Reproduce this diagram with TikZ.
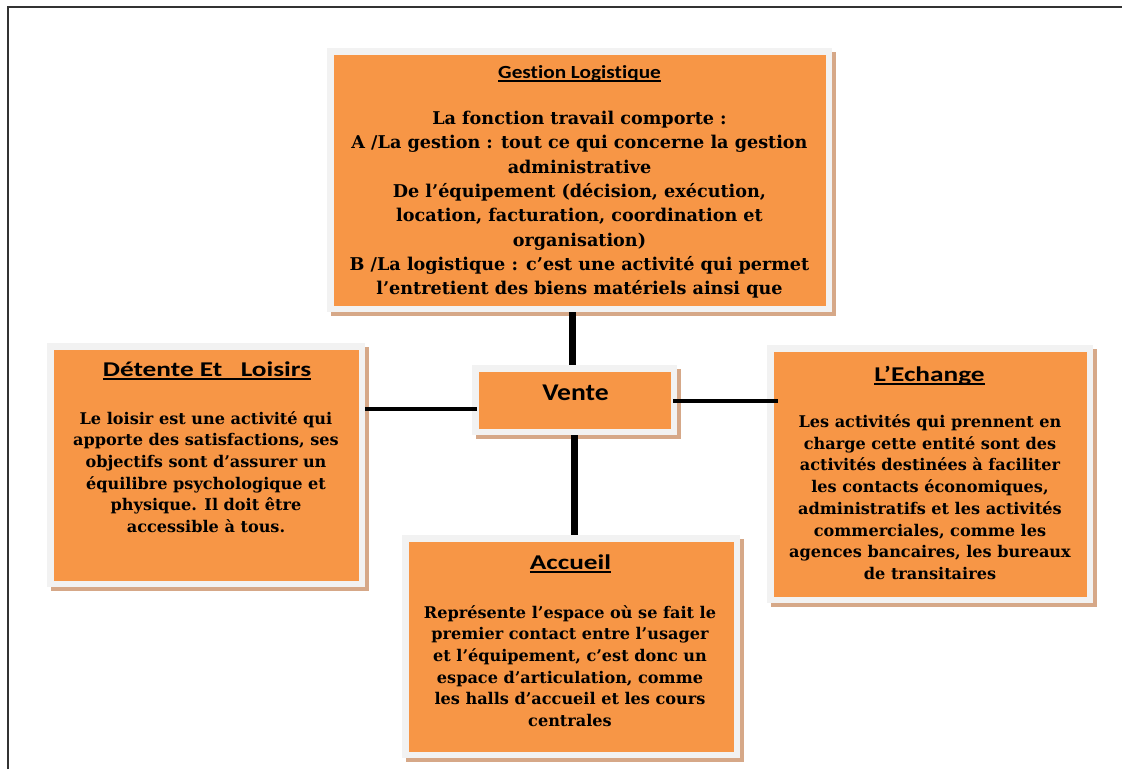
\documentclass[tikz,border=0pt]{standalone}
\usepackage{fontspec}
\setmainfont{DejaVu Serif}
\newfontfamily\titlefont[FakeStretch=1.3,Ligatures=NoCommon]{Carlito}
\newfontfamily\gestfont[FakeStretch=1.15,Ligatures=NoCommon]{Carlito}
\usetikzlibrary{shadows}
\definecolor{boxorange}{HTML}{F79646}
\definecolor{boxrim}{HTML}{F2F2F2}
\definecolor{boxshadow}{HTML}{D6A888}
\definecolor{framegray}{HTML}{333333}
\newcommand\tul[1]{\setbox0\hbox{#1}\leavevmode\rlap{\rule[-3.5pt]{\wd0}{1.4pt}}\box0}
\tikzset{
  card/.style={fill=boxrim, draw=none, inner sep=0pt,
    drop shadow={shadow xshift=3.5pt, shadow yshift=-3.5pt, fill=boxshadow, opacity=1},
    path picture={\fill[boxorange] ([shift={(6.5pt,-6.5pt)}]path picture bounding box.north west) rectangle ([shift={(-6.5pt,6.5pt)}]path picture bounding box.south east);}},
  cardtitle/.style={inner sep=0pt, anchor=base, font=\titlefont\bfseries\fontsize{21}{25}\selectfont},
  bodytext/.style={inner sep=0pt, anchor=north, align=center, font=\bfseries\fontsize{16.1}{21.7}\selectfont},
  vconn/.style={draw=black, line width=7pt},
  hconn/.style={draw=black, line width=4pt},
}
\begin{document}
\begin{tikzpicture}[x=1pt,y=-1pt]
\useasboundingbox[fill=white] (0,0) rectangle (1122,769);
\draw[framegray, line width=1.5pt] (8,769) -- (8,7) -- (1122,7);

% boxes
\node[card, minimum width=505pt, minimum height=264pt] (logi) at (579.5,180) {};
\node[card, minimum width=318pt, minimum height=244pt] (detente) at (206,465) {};
\node[card, minimum width=326pt, minimum height=258pt] (echange) at (930,474) {};
\node[card, minimum width=338pt, minimum height=223pt] (accueil) at (571,646.5) {};
\node[card, minimum width=205pt, minimum height=70pt] (vente) at (574.5,400) {};

% titles
\node[cardtitle, font=\gestfont\bfseries\fontsize{18.5}{22}\selectfont] (tlogi) at (579.5,78) {\tul{Gestion Logistique}};
\node[cardtitle] (tdetente) at (207,376) {\tul{Détente Et~~~Loisirs}};
\node[cardtitle] (techange) at (929.5,381) {\tul{L’Echange}};
\node[cardtitle] (taccueil) at (570.5,569) {\tul{Accueil}};
\node[cardtitle, font=\gestfont\bfseries\fontsize{24}{28}\selectfont] (tvente) at (575.5,400.5) {Vente};

% bodies
\node[bodytext, font=\bfseries\fontsize{17.6}{24.3}\selectfont] (blogi) at (579.5,111) {La fonction travail comporte :\\
A /La gestion : tout ce qui concerne la gestion\\
administrative\\
De l’équipement (décision, exécution,\\
location, facturation, coordination et\\
organisation)\\
B /La logistique : c’est une activité qui permet\\
l’entretient des biens matériels ainsi que};

\node[bodytext] (bdetente) at (206,411) {Le loisir est une activité qui\\
apporte des satisfactions, ses\\
objectifs sont d’assurer un\\
équilibre psychologique et\\
physique. Il doit être\\
accessible à tous.};

\node[bodytext] (bechange) at (930,414.5) {Les activités qui prennent en\\
charge cette entité sont des\\
activités destinées à faciliter\\
les contacts économiques,\\
administratifs et les activités\\
commerciales, comme les\\
agences bancaires, les bureaux\\
de transitaires};

\node[bodytext] (baccueil) at (570,605) {Représente l’espace où se fait le\\
premier contact entre l’usager\\
et l’équipement, c’est donc un\\
espace d’articulation, comme\\
les halls d’accueil et les cours\\
centrales};

% connectors
\draw[vconn] ([xshift=-2.5pt]vente.north) -- ([xshift=-2.5pt]vente.north |- logi.south);
\draw[vconn] (vente.south) -- (vente.south |- accueil.north);
\draw[hconn] ([xshift=5pt,yshift=-9pt]vente.west) -- ([yshift=-9pt]vente.west -| detente.east);
\draw[hconn] ([xshift=-4pt,yshift=-1pt]vente.east) -- ([xshift=11pt,yshift=-1pt]vente.east -| echange.west);
\end{tikzpicture}
\end{document}
